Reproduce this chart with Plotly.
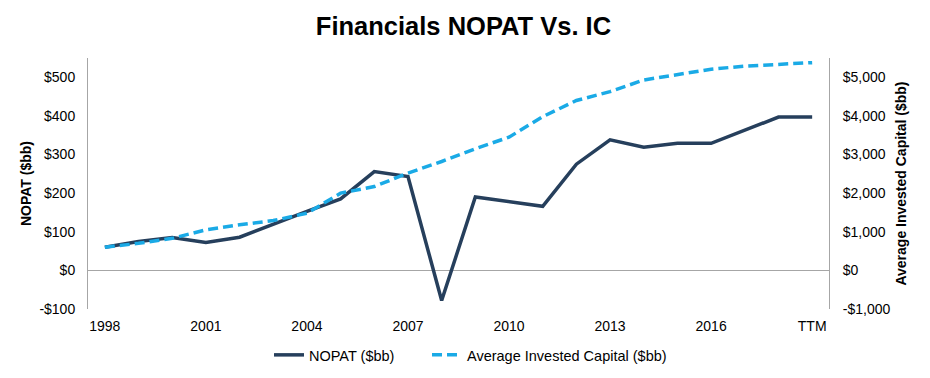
import plotly.graph_objects as go

categories = [str(y) for y in range(1998, 2019)] + ["TTM"]
nopat = [60, 75, 85, 72, 86, 120, 153, 185, 256, 243, -78, 190, 178, 166, 275, 338, 319, 329, 329, 364, 397, 397]
invested_capital = [600, 700, 830, 1050, 1180, 1290, 1480, 2000, 2170, 2520, 2820, 3150, 3450, 3980, 4400, 4630, 4930, 5060, 5210, 5290, 5340, 5380]
tick_x = ["1998", "2001", "2004", "2007", "2010", "2013", "2016", "TTM"]
left_ticks = [-100, 0, 100, 200, 300, 400, 500]
left_labels = ["-$100", "$0", "$100", "$200", "$300", "$400", "$500"]
right_ticks = [-1000, 0, 1000, 2000, 3000, 4000, 5000]
right_labels = ["-$1,000", "$0", "$1,000", "$2,000", "$3,000", "$4,000", "$5,000"]

FONT = "Liberation Sans, Arial, sans-serif"

fig = go.Figure()
fig.add_trace(go.Scatter(x=categories, y=nopat, name="NOPAT ($bb)", mode="lines",
                         line=dict(color="#263F5C", width=3.5), legend="legend"))
fig.add_trace(go.Scatter(x=categories, y=invested_capital, name="Average Invested Capital ($bb)",
                         mode="lines", yaxis="y2", legend="legend2",
                         line=dict(color="#1AAAE6", width=3.5, dash="10px,5px")))

fig.update_layout(
    width=922, height=370,
    margin=dict(l=80, r=101, t=50, b=69, autoexpand=False),
    paper_bgcolor="white", plot_bgcolor="white",
    font=dict(family=FONT, size=14, color="#000000"),
    title=dict(text="<b>Financials NOPAT Vs. IC</b>", x=0.494, xanchor="center", y=0.951, yanchor="middle",
               font=dict(family=FONT, size=25.5, color="#000000")),
    xaxis=dict(type="category", categoryorder="array", categoryarray=categories,
               range=[-0.5, 21.5], tickmode="array", tickvals=tick_x, ticktext=tick_x,
               showgrid=False, zeroline=False, showline=False, ticks="outside", ticklen=4,
               tickcolor="rgba(0,0,0,0)", tickfont=dict(size=14), automargin=False),
    yaxis=dict(range=[-100, 550], tickmode="array", tickvals=left_ticks, ticktext=left_labels,
               showgrid=False, zeroline=True, zerolinecolor="#A6A6A6", zerolinewidth=1,
               showline=True, linecolor="#A6A6A6", linewidth=1,
               ticks="outside", ticklen=9, tickcolor="rgba(0,0,0,0)", tickfont=dict(size=14),
               automargin=False,
               title=dict(text="<b>NOPAT ($bb)</b>", font=dict(size=14), standoff=4)),
    yaxis2=dict(range=[-1000, 5500], overlaying="y", side="right", tickmode="array",
                tickvals=right_ticks, ticktext=right_labels, showgrid=False, zeroline=False,
                showline=True, linecolor="#A6A6A6", linewidth=1,
                ticks="outside", ticklen=10, tickcolor="rgba(0,0,0,0)", tickfont=dict(size=14),
                automargin=False,
                title=dict(text="<b>Average Invested Capital ($bb)</b>", font=dict(size=14), standoff=6)),
    legend=dict(orientation="h", x=0.2443, xanchor="left", y=-0.183, yanchor="middle",
                font=dict(size=14.5)),
    legend2=dict(orientation="h", x=0.4575, xanchor="left", y=-0.183, yanchor="middle",
                 font=dict(size=14.5)),
    showlegend=True,
)

fig.write_html("out.html")
